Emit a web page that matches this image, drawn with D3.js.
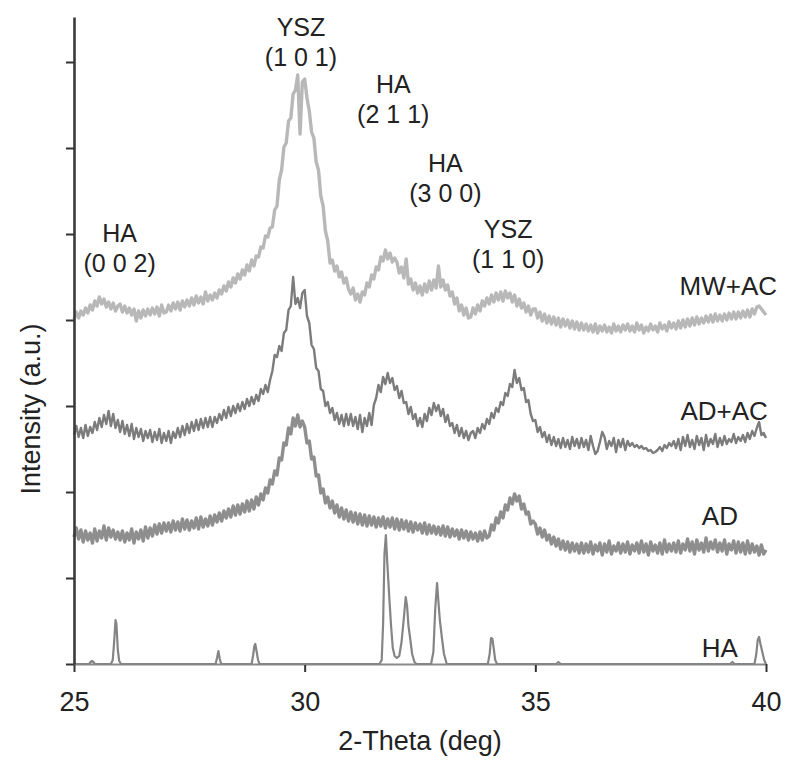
<!DOCTYPE html>
<html><head><meta charset="utf-8">
<script src="https://cdn.jsdelivr.net/npm/d3@7"></script>
<style>body{margin:0;background:#fff}text{font-family:"Liberation Sans",Arial,sans-serif}</style>
</head><body><svg id="c" width="800" height="775"></svg>
<script>
// 2-Theta sampling of the measured patterns
const thetaStart = 25, thetaStep = 0.05;
// Intensities (a.u.), one value per 0.05 deg from 25.00 to 40.00
const mwac = [
345,352,346,353,349,356,351,359,354,363,358,367,360,365,357,362,355,361,353,358,
360,352,358,351,356,349,355,343,353,346,354,348,355,349,356,350,357,348,359,351,
352,359,353,361,355,362,354,363,357,364,358,366,359,368,361,367,360,372,363,369,
364,371,366,374,370,378,373,382,377,386,381,390,385,394,389,399,393,404,398,408,
407,417,416,428,427,436,437,454,458,484,494,517,521,543,546,570,574,589,530,582,
585,566,553,532,526,502,494,468,458,433,423,401,404,393,398,387,392,381,386,375,
370,376,364,370,362,372,369,381,377,389,385,397,394,407,403,414,405,411,402,406,
402,391,397,386,405,380,385,374,381,371,378,369,380,372,383,374,384,376,398,377,
384,374,379,368,372,360,366,353,359,349,356,346,347,356,350,359,353,363,358,366,
360,369,362,371,364,372,363,373,366,371,362,369,358,365,356,361,352,358,349,355,
355,346,352,343,350,341,348,340,347,339,346,337,345,338,344,336,343,335,342,334,
341,334,340,333,339,332,340,331,338,333,339,332,337,331,340,333,338,332,339,334,
340,333,338,332,341,334,339,331,337,333,340,334,338,332,341,335,339,333,342,336,
341,335,343,336,344,337,345,338,346,339,347,340,346,341,348,342,349,342,350,343,
349,343,350,344,351,345,352,345,352,346,353,347,354,347,355,350,357,358,355,352,
349];
const adac = [
229,238,227,236,226,239,228,237,231,242,234,246,237,249,240,253,238,250,236,244,
232,243,230,239,228,240,225,236,227,235,223,233,226,234,222,232,224,235,221,231,
223,233,221,232,226,236,227,238,229,240,231,242,233,244,234,245,236,246,237,247,
237,247,241,250,244,254,246,257,248,258,251,260,253,262,255,265,258,267,260,269,
263,275,270,279,272,284,293,309,307,318,313,331,334,354,358,387,360,366,356,371,
374,348,341,319,315,296,293,275,273,258,262,251,256,244,251,240,249,238,250,239,
250,238,247,235,249,232,246,238,251,239,259,266,279,272,287,280,291,281,286,274,
278,266,273,261,262,250,257,245,250,238,246,237,250,243,256,249,261,253,259,248,
255,242,249,238,241,231,239,228,236,226,233,224,231,233,226,236,231,240,235,245,
240,251,246,256,252,262,259,271,268,280,277,294,281,286,274,276,262,264,250,243,
244,232,237,227,232,222,229,219,227,218,225,216,226,217,224,215,227,218,225,216,
226,217,224,214,228,218,210,213,222,232,227,215,223,218,226,212,224,217,225,214,
223,218,221,217,219,216,218,215,216,213,214,211,212,214,217,213,219,216,221,218,
223,216,225,214,227,218,229,217,224,215,228,219,226,214,229,218,225,220,230,217,
226,219,228,220,225,222,230,221,227,223,229,222,231,225,233,228,236,242,229,231,
226];
const ad = [
127,136,125,134,122,133,124,131,121,135,123,133,126,138,124,136,127,134,125,132,
124,133,122,131,124,135,121,132,125,134,123,137,126,136,128,139,130,140,131,141,
133,141,132,143,134,142,133,145,135,144,134,143,136,146,135,147,137,145,138,148,
139,149,142,151,143,153,146,155,147,158,149,159,150,160,152,163,153,164,155,167,
159,170,164,176,171,184,180,193,189,206,204,221,219,236,230,246,238,249,237,243,
237,221,223,205,207,188,189,171,175,161,167,156,163,151,159,147,156,145,154,143,
152,142,151,140,150,139,149,138,148,139,147,137,146,138,147,136,145,137,146,135,
145,134,144,135,143,133,142,132,141,134,140,131,141,130,139,131,138,130,137,129,
138,128,137,127,135,128,134,125,134,126,133,124,132,125,131,123,132,124,133,126,
128,139,134,146,141,152,146,159,154,166,160,170,163,168,155,160,150,152,140,143,
140,130,136,127,134,124,129,120,127,118,125,115,123,114,122,112,121,113,120,111,
121,111,120,112,122,110,119,113,121,109,120,112,123,110,118,113,121,111,120,112,
122,110,119,113,121,111,123,112,120,109,122,113,119,111,121,110,124,112,120,113,
121,112,123,111,120,114,125,113,122,110,124,114,121,112,126,113,122,115,124,112,
121,113,124,110,120,114,123,111,122,112,121,110,123,111,120,112,118,109,119,110,
114];
// HA reference pattern
const haTheta = [25.00,25.33,25.36,25.39,25.42,25.45,25.80,25.84,25.87,25.90,25.92,25.95,25.98,26.02,
28.07,28.10,28.13,28.16,28.19,28.85,28.88,28.91,28.93,28.96,28.99,29.02,
31.62,31.67,31.70,31.73,31.76,31.79,31.83,31.87,31.91,31.95,32.00,32.05,32.10,32.15,32.19,32.22,32.25,32.28,32.33,32.38,32.42,
32.74,32.79,32.83,32.87,32.90,32.93,32.97,33.02,33.08,
33.97,34.01,34.04,34.07,34.10,34.13,34.17,35.45,35.50,35.55,39.22,39.27,39.32,
39.75,39.79,39.82,39.85,39.88,39.92,39.96,40.00];
const haIntensity = [0,0,2,3,2,0,0,4,22,44,40,14,3,0,
0,6,13,5,0,0,8,18,20,12,4,0,
0,4,40,110,129,102,70,40,16,8,6,8,22,46,67,58,38,28,10,2,0,
0,12,55,81,62,44,28,10,0,
0,10,26,25,15,4,0,0,2,0,0,2,0,
0,10,24,27,20,12,4,0];

const seriesNames = ["MW+AC","AD+AC","AD"];
const seriesColors = ["#b8b8b8","#7c7c7c","#8e8e8e"];
const xTicks = [25,30,35,40];
const yTicks = [0,86,172,258,344,430,516,602];

// peak annotations (phase, hkl, 2-theta, intensity level)
const annPhase = ["HA","YSZ","HA","HA","YSZ"];
const annHkl = ["(0 0 2)","(1 0 1)","(2 1 1)","(3 0 0)","(1 1 0)"];
const annTheta = [25.99,29.92,31.92,33.05,34.41];
const annLevel = [422,628,571,492,426];
// series label anchors
const labelNames = ["MW+AC","AD+AC","AD","HA"];
const labelTheta = [40.24,40.04,39.0,39.0];
const labelLevel = [369,244,139,7];
const labelAnchor = ["end","end","middle","middle"];

const svg = d3.select("#c");
const x = d3.scaleLinear().domain([25,40]).range([74,766]);
const y = d3.scaleLinear().domain([0,647]).range([664,17]);

// x axis (drawn first, baseline under HA)
const xAxis = svg.append("g").attr("transform","translate(0,664)")
  .call(d3.axisBottom(x).tickValues(xTicks).tickSize(8).tickPadding(20).tickSizeOuter(0).tickFormat(d3.format("d")));
xAxis.select(".domain").attr("stroke","#8a8a8a").attr("stroke-width",2);
xAxis.selectAll(".tick line").attr("stroke","#333").attr("stroke-width",2);
xAxis.selectAll(".tick text").attr("font-size",27).attr("fill","#222")
  .style("font-family","'Liberation Sans',Arial,sans-serif");

const line = d3.line().x((d,i)=>x(thetaStart + i*thetaStep)).y(d=>y(d));
const widths = [3.4, 2.4, 3.4];
[mwac, adac, ad].forEach((vals,k)=>{
  svg.append("path").datum(vals).attr("d",line)
    .attr("fill","none").attr("stroke",seriesColors[k])
    .attr("stroke-width", widths[k]).attr("stroke-linejoin","round");
});

const haLine = d3.line().x((d,i)=>x(haTheta[i])).y(d=>y(d));
svg.append("path").datum(haIntensity).attr("d",haLine)
  .attr("fill","none").attr("stroke","#858585").attr("stroke-width",2.2).attr("stroke-linejoin","round");

// y axis
const yAxis = svg.append("g").attr("transform","translate(74,0)")
  .call(d3.axisLeft(y).tickValues(yTicks).tickSize(8).tickSizeOuter(0).tickFormat(""));
yAxis.select(".domain").attr("stroke","#3a3a3a").attr("stroke-width",2.6);
yAxis.selectAll(".tick line").attr("stroke","#333").attr("stroke-width",2);

// axis titles
svg.append("text").attr("x",420).attr("y",750).attr("text-anchor","middle")
  .attr("font-size",27).attr("fill","#222").text("2-Theta (deg)");
svg.append("text").attr("transform","translate(40,409) rotate(-90)").attr("text-anchor","middle")
  .attr("font-size",27).attr("fill","#222").text("Intensity (a.u.)");

// peak annotations
annPhase.forEach((p,i)=>{
  const t = svg.append("text").attr("text-anchor","middle").attr("font-size",25).attr("fill","#222")
    .attr("x",x(annTheta[i])).attr("y",y(annLevel[i]));
  t.append("tspan").attr("x",x(annTheta[i])).text(p);
  t.append("tspan").attr("x",x(annTheta[i])).attr("dy",30).text(annHkl[i]);
});

// series labels
labelNames.forEach((n,i)=>{
  svg.append("text").attr("x",x(labelTheta[i])).attr("y",y(labelLevel[i]))
    .attr("text-anchor",labelAnchor[i]).attr("font-size",26).attr("fill","#222").text(n);
});
</script></body></html>
